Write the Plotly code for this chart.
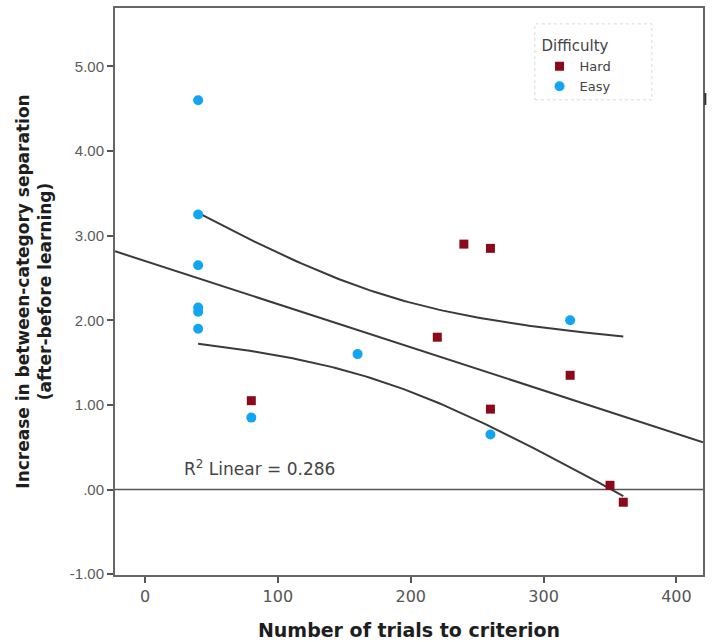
import numpy as np
import plotly.graph_objects as go

# Data
easy_x = [40, 40, 40, 40, 40, 40, 80, 160, 260, 320]
easy_y = [4.60, 3.25, 2.65, 2.15, 2.10, 1.90, 0.85, 1.60, 0.65, 2.00]
hard_x = [80, 220, 240, 260, 260, 320, 350, 360]
hard_y = [1.05, 1.80, 2.90, 2.85, 0.95, 1.35, 0.05, -0.15]

y_tickvals = [-1, 0, 1, 2, 3, 4, 5]
y_ticktext = ["-1.00", ".00", "1.00", "2.00", "3.00", "4.00", "5.00"]
x_tickvals = [0, 100, 200, 300, 400]

# Linear fit + 95% CI of the mean
ax = np.array(easy_x + hard_x, float)
ay = np.array(easy_y + hard_y, float)
n = len(ax)
b1, b0 = np.polyfit(ax, ay, 1)
resid = ay - (b0 + b1 * ax)
s = np.sqrt(np.sum(resid**2) / (n - 2))
sxx = np.sum((ax - ax.mean())**2)
t = 2.1199  # t(0.975, 16)

xr = [-22.6, 420]
line_x = np.array(xr)
line_y = b0 + b1 * line_x
ci_x = np.linspace(min(ax), max(ax), 100)
ci_fit = b0 + b1 * ci_x
ci_half = t * s * np.sqrt(1 / n + (ci_x - ax.mean())**2 / sxx)

fig = go.Figure()
line_style = dict(color="#3a3a3a", width=2)
fig.add_trace(go.Scatter(x=line_x, y=line_y, mode="lines", line=line_style,
                         showlegend=False, hoverinfo="skip"))
fig.add_trace(go.Scatter(x=ci_x, y=ci_fit + ci_half, mode="lines", line=line_style,
                         showlegend=False, hoverinfo="skip"))
fig.add_trace(go.Scatter(x=ci_x, y=ci_fit - ci_half, mode="lines", line=line_style,
                         showlegend=False, hoverinfo="skip"))
fig.add_trace(go.Scatter(x=hard_x, y=hard_y, mode="markers", name="Hard",
                         marker=dict(symbol="square", size=9, color="#8b0a1a")))
fig.add_trace(go.Scatter(x=easy_x, y=easy_y, mode="markers", name="Easy",
                         marker=dict(symbol="circle", size=10, color="#12a5f2")))

fig.add_hline(y=0, line=dict(color="#555555", width=1.5), layer="below")

fig.add_annotation(x=28, y=0.26, xref="x", yref="y",
                   text="R<sup>2</sup> Linear = 0.286", showarrow=False,
                   xanchor="left", yanchor="middle",
                   font=dict(family="DejaVu Sans", size=17, color="#444444"))

# dotted legend frame
fig.add_shape(type="rect", xref="paper", yref="paper",
              x0=0.714, x1=0.913, y0=0.838, y1=0.972,
              line=dict(color="#d8d8d8", width=1, dash="dot"))
# small mark on the right frame
fig.add_shape(type="line", xref="paper", yref="paper",
              x0=1.004, x1=1.004, y0=0.829, y1=0.850,
              line=dict(color="#333333", width=2))

fig.update_layout(
    width=713, height=642,
    margin=dict(l=115, r=10, t=8, b=67),
    paper_bgcolor="white", plot_bgcolor="white",
    font=dict(family="Liberation Sans, Arial", color="#555555"),
    legend=dict(x=0.722, y=0.958, xanchor="left", yanchor="top",
                title=dict(text="Difficulty",
                           font=dict(family="DejaVu Sans", size=15, color="#444444")),
                font=dict(family="DejaVu Sans", size=13, color="#444444"),
                bgcolor="rgba(0,0,0,0)", tracegroupgap=0, itemwidth=30),
    xaxis=dict(range=xr, tickvals=x_tickvals, showgrid=False, zeroline=False,
               showline=True, mirror=True, linecolor="#666666", linewidth=2,
               ticks="outside", ticklen=6, tickwidth=2, tickcolor="#555555",
               tickfont=dict(family="DejaVu Sans", size=16, color="#555555"),
               automargin=False,
               title=dict(text="<b>Number of trials to criterion</b>",
                          font=dict(family="DejaVu Sans", size=19, color="#1e1e1e"),
                          standoff=18)),
    yaxis=dict(range=[-1.01, 5.69], tickvals=y_tickvals, ticktext=y_ticktext,
               showgrid=False, zeroline=False,
               showline=True, mirror=True, linecolor="#666666", linewidth=2,
               ticks="outside", ticklen=6, tickwidth=1.5, tickcolor="#555555",
               tickfont=dict(size=15, color="#5a5a5a"),
               automargin=False,
               title=dict(text="<b>Increase in between-category separation<br>(after-before learning)</b>",
                          font=dict(family="DejaVu Sans", size=17, color="#1e1e1e"),
                          standoff=14)),
)

fig.write_html("out.html", config={"displayModeBar": False},
               post_script="document.body.style.margin='0px';")
